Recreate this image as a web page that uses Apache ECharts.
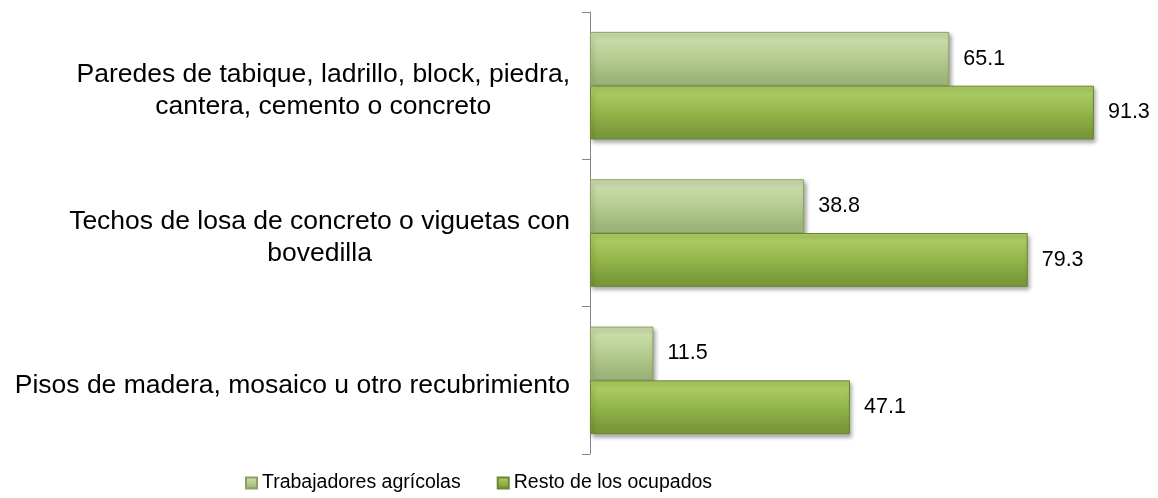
<!DOCTYPE html>
<html>
<head>
<meta charset="utf-8">
<script src="https://cdn.jsdelivr.net/npm/echarts@6/dist/echarts.min.js"></script>
<style>
  html, body { margin: 0; padding: 0; background: #fff; }
  #chart { width: 1158px; height: 498px; }
</style>
</head>
<body>
<div id="chart"></div>
<script>
  // categorias (con salto de linea como en el original)
  var categories = [
    'Paredes de tabique, ladrillo, block, piedra,\ncantera, cemento o concreto',
    'Techos de losa de concreto o viguetas con\nbovedilla',
    'Pisos de madera, mosaico u otro recubrimiento'
  ]
  var seriesNames = ['Trabajadores agrícolas', 'Resto de los ocupados']
  var agricolas = [65.1, 38.8, 11.5]
  var resto = [91.3, 79.3, 47.1]

  var font = '"Liberation Sans", Arial, sans-serif'

  function barGradient(top, mid, bottom) {
    return new echarts.graphic.LinearGradient(0, 0, 0, 1, [
      { offset: 0, color: top },
      { offset: 0.12, color: top },
      { offset: 0.5, color: mid },
      { offset: 0.88, color: bottom },
      { offset: 1, color: bottom }
    ])
  }

  var chart = echarts.init(document.getElementById('chart'))
  chart.setOption({
    animation: false,
    textStyle: { fontFamily: font, color: '#000' },
    grid: { left: 590, right: 16, top: 12, bottom: 44 },
    legend: {
      left: 240,
      top: 468,
      itemWidth: 11,
      itemHeight: 11,
      itemGap: 36,
      icon: 'rect',
      textStyle: { fontSize: 19.5, color: '#000', fontFamily: font },
      data: seriesNames
    },
    xAxis: {
      type: 'value',
      min: 0,
      max: 100,
      show: false
    },
    yAxis: {
      type: 'category',
      inverse: true,
      data: categories,
      axisLine: { show: true, lineStyle: { color: '#868686', width: 1 } },
      axisTick: { show: true, length: 8, lineStyle: { color: '#868686' } },
      axisLabel: {
        margin: 20,
        padding: [10, 0, 0, 0],
        formatter: function (v) {
          return v.split('\n').map(function (l) { return '{c|' + l + '}' }).join('\n')
        },
        rich: {
          c: { align: 'center', fontSize: 26.5, lineHeight: 32, color: '#000', fontFamily: font }
        }
      }
    },
    series: [
      {
        name: seriesNames[0],
        type: 'bar',
        data: agricolas,
        barGap: '0%',
        barCategoryGap: '27%',
        itemStyle: {
          color: barGradient('#cadcaa', '#b6cc90', '#9db57a'),
          borderColor: '#8ba266',
          borderWidth: 1,
          shadowColor: 'rgba(0,0,0,0.35)',
          shadowBlur: 4,
          shadowOffsetX: 2,
          shadowOffsetY: 3
        },
        label: {
          show: true,
          position: 'right',
          distance: 14,
          fontSize: 21.5,
          color: '#000',
          fontFamily: font
        }
      },
      {
        name: seriesNames[1],
        type: 'bar',
        data: resto,
        barGap: '0%',
        barCategoryGap: '27%',
        itemStyle: {
          color: barGradient('#abcc63', '#93b64b', '#7b9939'),
          borderColor: '#6c8731',
          borderWidth: 1,
          shadowColor: 'rgba(0,0,0,0.35)',
          shadowBlur: 4,
          shadowOffsetX: 2,
          shadowOffsetY: 3
        },
        label: {
          show: true,
          position: 'right',
          distance: 14,
          fontSize: 21.5,
          color: '#000',
          fontFamily: font
        }
      }
    ]
  })
</script>
</body>
</html>
